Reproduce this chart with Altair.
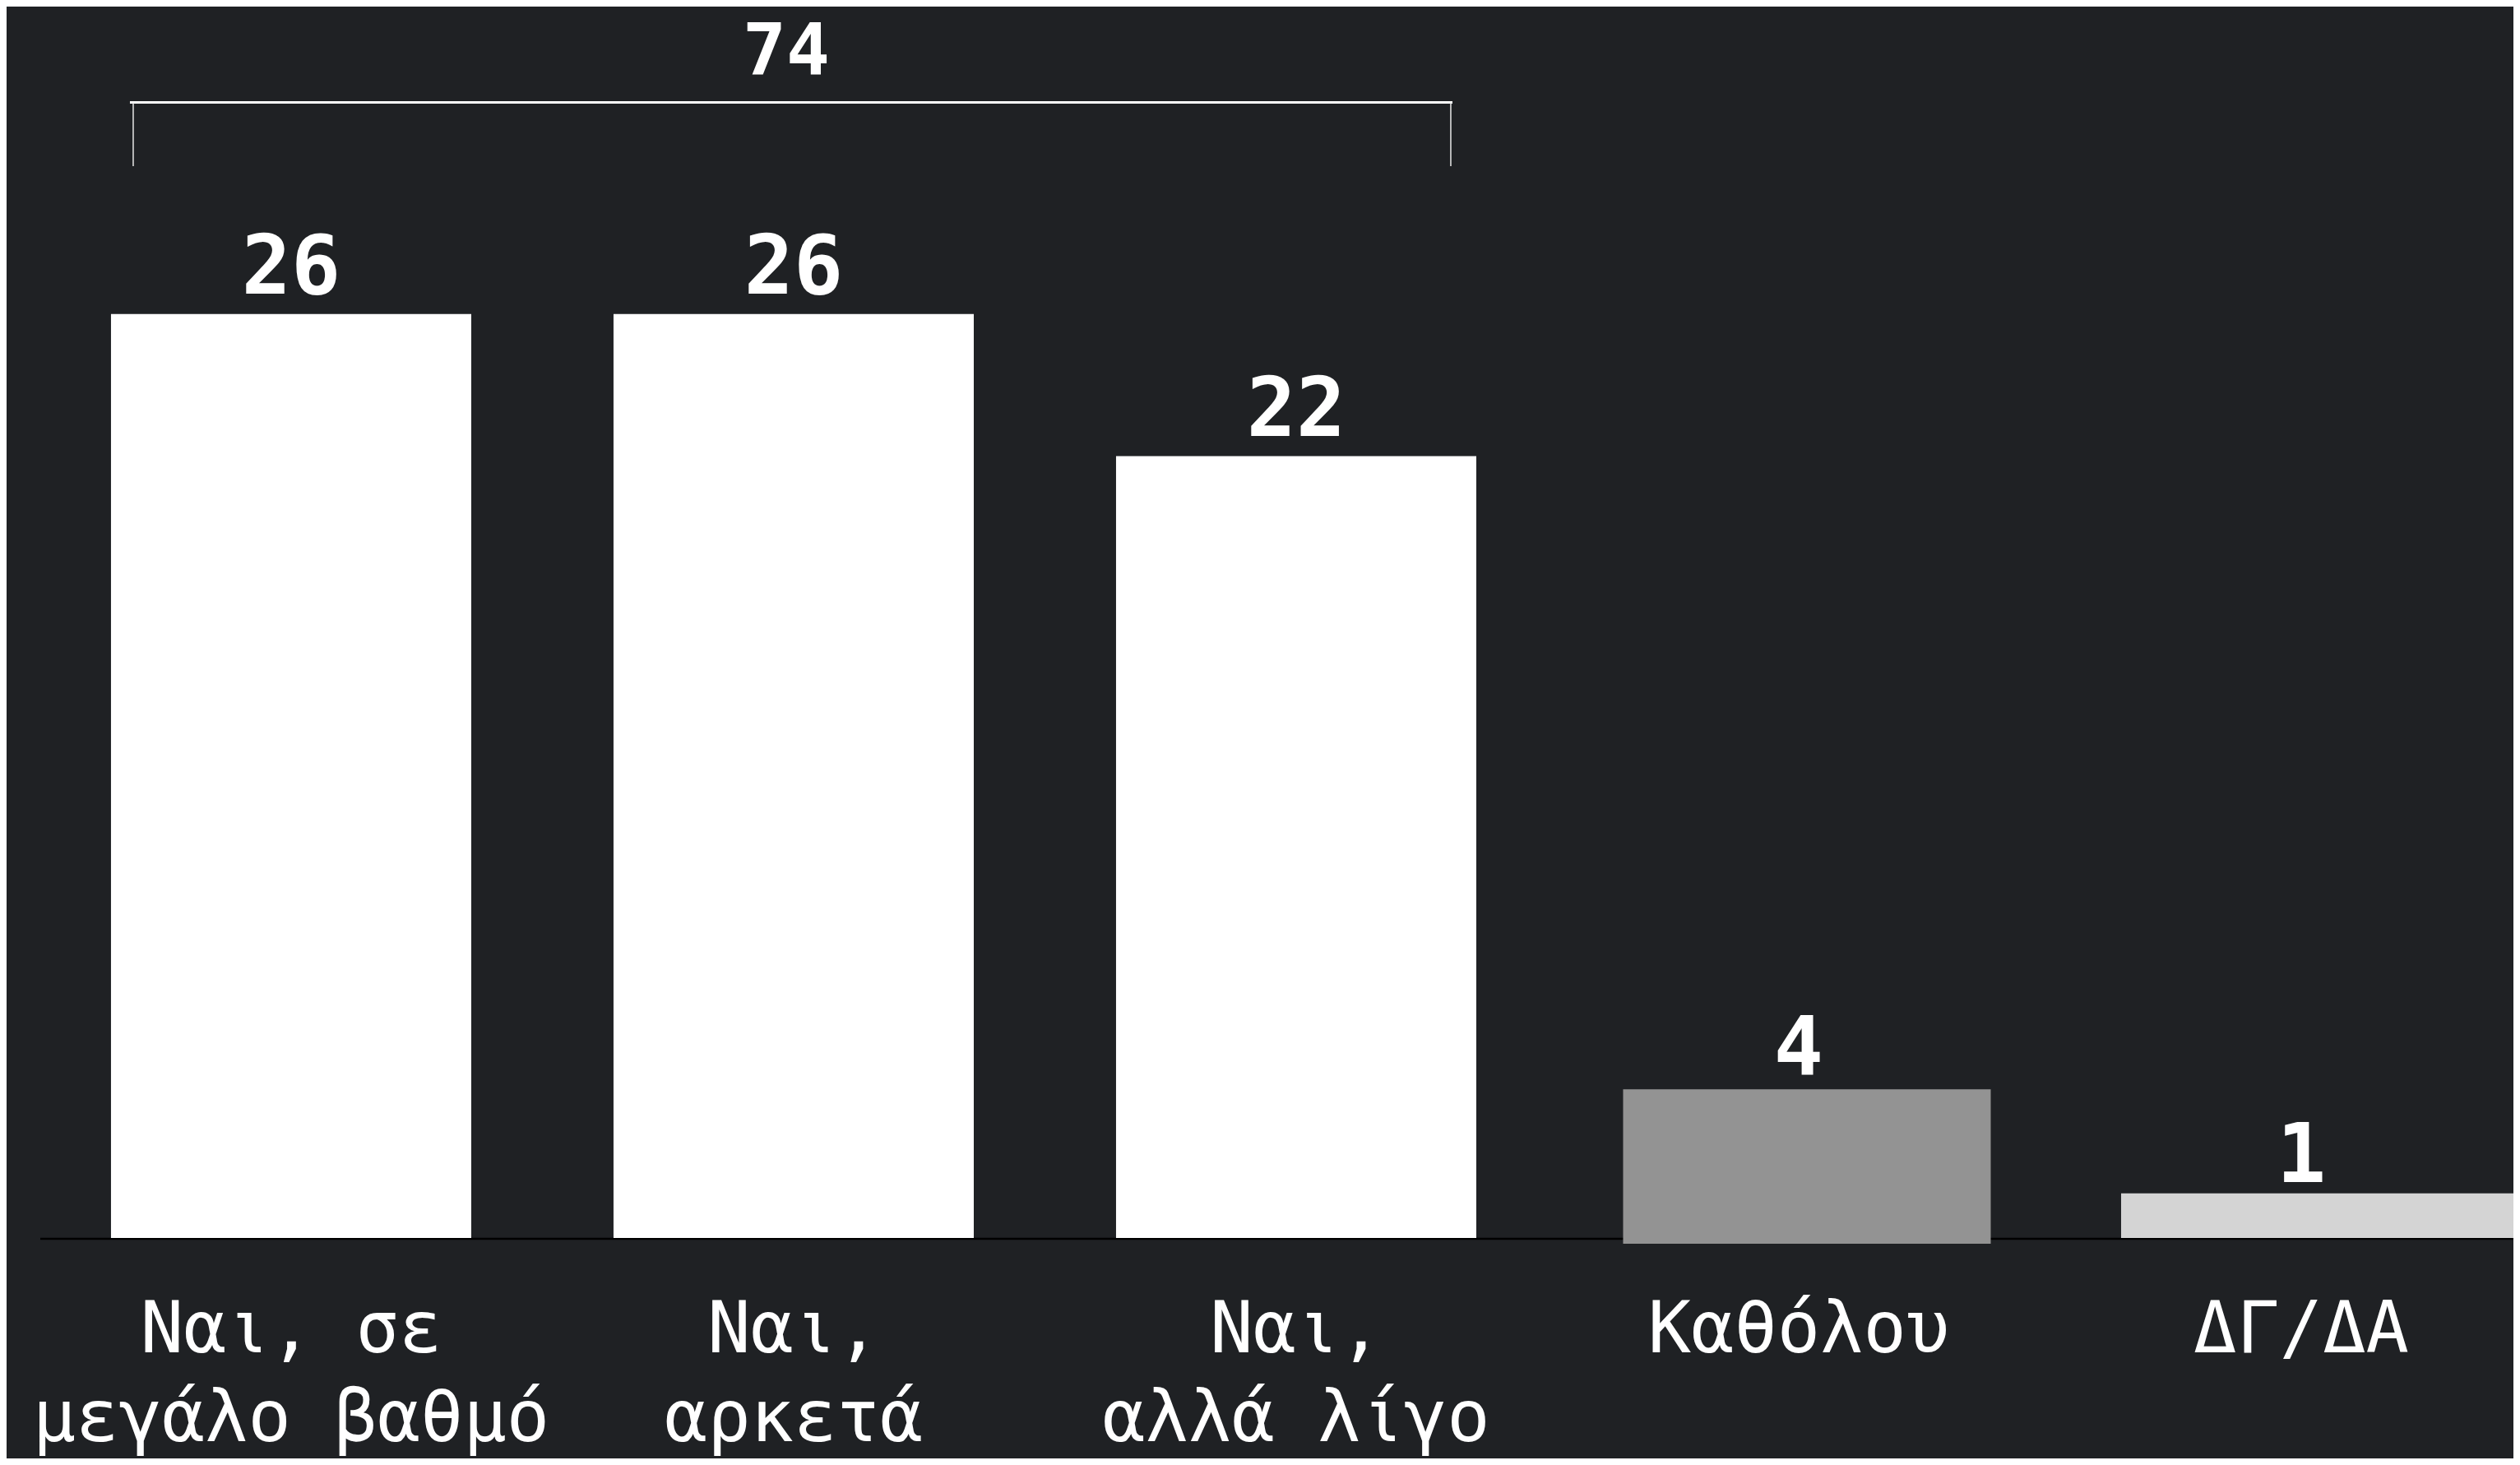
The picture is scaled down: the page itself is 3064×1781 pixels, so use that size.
import altair as alt
import pandas as pd

# ---- data ----
categories = ["Ναι, σε\nμεγάλο βαθμό", "Ναι,\nαρκετά", "Ναι,\nαλλά λίγο", "Καθόλου", "ΔΓ/ΔΑ"]
values = [26, 26, 22, 4, 1]
bar_colors = ["#ffffff", "#ffffff", "#ffffff", "#939393", "#d4d4d4"]
bracket_start = categories[0]
bracket_mid = categories[1]
bracket_end = categories[2]
bracket_total = sum(values[:3])  # 74

df = pd.DataFrame({"cat": categories, "value": values, "color": bar_colors,
                   "idx": list(range(len(categories)))})
df_b = pd.DataFrame({"start": [bracket_start], "mid": [bracket_mid],
                     "end": [bracket_end], "total": [bracket_total]})
df_zero = pd.DataFrame({"v": [0]})

W, H = 3048, 1765
BG = "#1f2124"
FONT = "DejaVu Sans Mono"

xscale = alt.Scale(domain=categories, paddingInner=0.2831, paddingOuter=0.1358, align=0.765)
yscale = alt.Scale(domain=[-6.2037, 34.6528], nice=False, zero=False)

X = alt.X("cat:N", scale=xscale, axis=None, sort=categories)
Y = alt.Y("value:Q", scale=yscale, axis=None, stack=None)
C = alt.Color("color:N", scale=None, legend=None)

base = alt.Chart(df)

baseline = alt.Chart(df_zero).mark_rule(color="#000000", strokeWidth=2.5, yOffset=1).encode(
    x=alt.value(41), x2=alt.value(W), y=alt.Y("v:Q", scale=yscale, axis=None)
)

bars_main = base.transform_filter("datum.idx < 3").mark_bar().encode(
    x=X, y=Y, y2=alt.datum(0), color=C
)
bar_4 = base.transform_filter("datum.idx == 3").mark_bar(
    width=447, xOffset=10, yOffset=-8, y2Offset=7
).encode(x=X, y=Y, y2=alt.datum(0), color=C)
bar_5 = base.transform_filter("datum.idx == 4").mark_bar(
    width=490, xOffset=26, yOffset=-11
).encode(x=X, y=Y, y2=alt.datum(0), color=C)

value_labels = base.mark_text(
    dy=-25, baseline="alphabetic", align="center", fontSize=100, fontWeight="bold",
    font=FONT, color="#ffffff"
).encode(x=X, y=Y, text=alt.Text("value:Q"))

cat_labels = base.mark_text(
    dy=139, baseline="alphabetic", align="center", fontSize=87, font=FONT,
    color="#ffffff", lineBreak="\n", lineHeight=108
).encode(x=X, y=alt.datum(0), text=alt.Text("cat:N"))

XB = alt.X("start:N", scale=xscale, axis=None)
bracket_h = alt.Chart(df_b).mark_rule(color="#ffffff", strokeWidth=3, xOffset=-196, x2Offset=190).encode(
    x=XB, x2="end:N", y=alt.value(116.5)
)
bracket_l = alt.Chart(df_b).mark_rule(color="#e8e8e8", strokeWidth=1.5, xOffset=-192).encode(
    x=XB, y=alt.value(116.5), y2=alt.value(194)
)
bracket_r = alt.Chart(df_b).mark_rule(color="#e8e8e8", strokeWidth=1.5, xOffset=188).encode(
    x=alt.X("end:N", scale=xscale, axis=None), y=alt.value(116.5), y2=alt.value(194)
)
total_label = alt.Chart(df_b).mark_text(
    dx=-9, baseline="alphabetic", align="center", fontSize=88, fontWeight="bold",
    font=FONT, color="#ffffff"
).encode(x=alt.X("mid:N", scale=xscale, axis=None), y=alt.value(83), text=alt.Text("total:Q"))

chart = alt.layer(
    baseline, bars_main, bar_4, bar_5, value_labels, cat_labels,
    bracket_h, bracket_l, bracket_r, total_label
).properties(
    width=W, height=H, padding=0, background=BG,
    autosize=alt.AutoSizeParams(type="none")
).configure_view(stroke=None)

chart.save("out.html", embed_options={"renderer": "svg", "actions": False})
